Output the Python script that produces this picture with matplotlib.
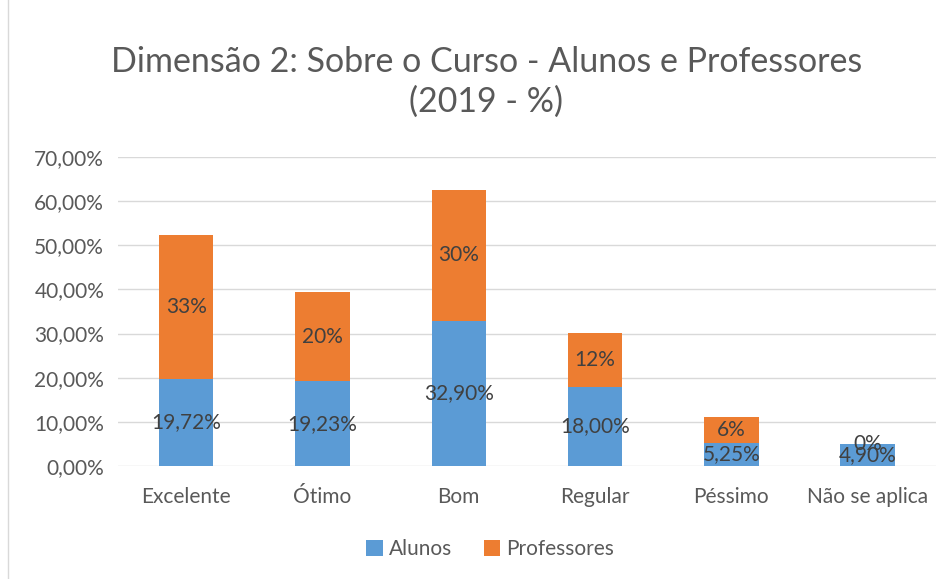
import matplotlib.pyplot as plt
import numpy as np

plt.rcParams['font.family'] = ['Lato', 'DejaVu Sans']

# Dados
categorias = ["Excelente", "Ótimo", "Bom", "Regular", "Péssimo", "Não se aplica"]
alunos = [19.72, 19.23, 32.90, 18.00, 5.25, 4.90]
professores = [32.6, 20.2, 29.6, 12.1, 5.85, 0.0]

azul = "#5B9BD5"
laranja = "#ED7D31"
cinza = "#595959"

fig = plt.figure(figsize=(9.52, 5.79), dpi=100)
ax = fig.add_axes([0.124, 0.195, 0.859, 0.534])

x = np.arange(len(categorias))
b1 = ax.bar(x, alunos, width=0.4, color=azul, label="Alunos", zorder=2)
b2 = ax.bar(x, professores, width=0.4, bottom=alunos, color=laranja,
            label="Professores", zorder=2)

# rotulos dos dados
for i in range(len(categorias)):
    ax.text(x[i], alunos[i] / 2, f"{alunos[i]:.2f}%".replace(".", ","),
            ha="center", va="center", fontsize=15, color="#404040", zorder=3)
    ax.text(x[i], alunos[i] + professores[i] / 2, f"{professores[i]:.0f}%",
            ha="center", va="center", fontsize=15, color="#404040", zorder=3)

ax.set_xlim(-0.5, len(categorias) - 0.5)
ax.set_ylim(0, 70)
ax.set_yticks(np.arange(0, 71, 10))
ax.set_yticklabels([f"{v:.2f}%".replace(".", ",") for v in np.arange(0, 71, 10)])
ax.set_xticks(x)
ax.set_xticklabels(categorias)
ax.tick_params(axis="both", length=0, labelsize=15, colors=cinza)
ax.tick_params(axis="x", pad=15)
ax.tick_params(axis="y", pad=10)
ax.yaxis.grid(True, color="#D9D9D9", linewidth=1, zorder=0)
for s in ax.spines.values():
    s.set_visible(False)

fig.text(0.511, 0.859, "Dimensão 2: Sobre o Curso - Alunos e Professores\n(2019 - %)",
         ha="center", va="center", fontsize=24.5, color=cinza, linespacing=1.28)

fig.legend(handles=[b1, b2], loc="center", bbox_to_anchor=(0.515, 0.052), ncol=2,
           frameon=False, fontsize=15, labelcolor=cinza, handlelength=0.8,
           handleheight=0.8, handletextpad=0.3, columnspacing=1.5)

# borda do grafico
fig.patches.append(plt.Rectangle((0.008, -0.01), 1.0, 1.02, transform=fig.transFigure,
                                 fill=False, edgecolor="#D9D9D9", linewidth=1))

plt.savefig("out.png", dpi=100)
